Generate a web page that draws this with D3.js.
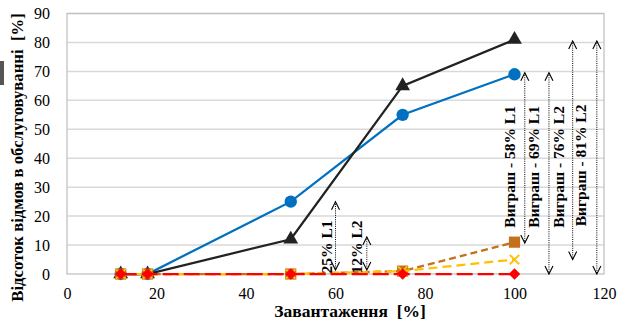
<!DOCTYPE html>
<html>
<head>
<meta charset="utf-8">
<script src="https://cdn.jsdelivr.net/npm/d3@7"></script>
<style>
	body { margin: 0; background: #fff; }
	svg { display: block; }
	text { font-family: "Times New Roman", "Liberation Serif", serif; white-space: pre; }
</style>
</head>
<body>
<div id="chart"></div>
<script>
// load levels, %
const loads = [12, 18, 50, 75, 100];

// refusal rate per series, %
const blueSeries = [0, 0, 25, 55, 69];
const blackSeries = [0, 0, 12, 65, 81];
const orangeSeries = [0, 0, 0, 1, 11];
const yellowSeries = [0, 0, 0, 1, 5];
const redSeries = [0, 0, 0, 0, 0];

const xTicks = [0, 20, 40, 60, 80, 100, 120];
const yTicks = [0, 10, 20, 30, 40, 50, 60, 70, 80, 90];

// annotation arrows: x position, from, to (data units) and text
const noteX = [60, 67, 102.3, 107.7, 113, 118.4];
const noteFrom = [1.4, 1.4, 10.7, 0, 5, 0];
const noteTo = [25, 12.8, 69.5, 69.5, 80.5, 80.5];
const noteText = ["25% L1", "12% L2", "Виграш - 58% L1", "Виграш - 69% L1", "Виграш - 76% L2", "Виграш - 81% L2"];
const noteTextX = [59.2, 65.9, 100.1, 105.5, 111.1, 116];
const noteTextBase = [0.2, 0.2, 16, 16, 16, 16.5];

const width = 617, height = 323;
const margin = {top: 13.5, right: 13, bottom: 49, left: 67};

let scale = {
	x: d3.scaleLinear().domain([0, 120]).range([margin.left, width - margin.right]),
	y: d3.scaleLinear().domain([0, 90]).range([height - margin.bottom, margin.top])
};

let svg = d3.select("#chart").append("svg")
	.attr("width", width)
	.attr("height", height);

// stray dark mark at the left edge of the original
svg.append("rect")
	.attr("x", 0).attr("y", 61).attr("width", 4).attr("height", 24)
	.attr("fill", "#555");

// gridlines
svg.append("g")
	.selectAll("line")
	.data(yTicks.filter(d => d > 0))
	.enter()
	.append("line")
		.attr("x1", scale.x(0))
		.attr("x2", scale.x(120))
		.attr("y1", d => scale.y(d))
		.attr("y2", d => scale.y(d))
		.style("stroke", "#d9d9d9")
		.style("stroke-width", 1.5);

// plot border
svg.append("rect")
	.attr("x", scale.x(0))
	.attr("y", scale.y(90))
	.attr("width", scale.x(120) - scale.x(0))
	.attr("height", scale.y(0) - scale.y(90))
	.attr("fill", "none")
	.style("stroke", "#bfbfbf")
	.style("stroke-width", 1.25);

// axes
let xAxis = svg.append("g")
	.attr("transform", `translate(0, ${scale.y(0)})`)
	.call(d3.axisBottom(scale.x).tickValues(xTicks).tickSize(0).tickPadding(14));
let yAxis = svg.append("g")
	.attr("transform", `translate(${scale.x(0)}, 0)`)
	.call(d3.axisLeft(scale.y).tickValues(yTicks).tickSize(0).tickPadding(17));

[xAxis, yAxis].forEach(ax => {
	ax.attr("font-family", null);
	ax.select(".domain").remove();
	ax.selectAll("text")
		.style("font-size", "16px")
		.attr("fill", "#000");
});

svg.append("text")
	.attr("x", 350)
	.attr("y", 317)
	.attr("text-anchor", "middle")
	.style("font-size", "17.5px")
	.style("font-weight", "bold")
	.text("Завантаження  [%]");

svg.append("text")
	.attr("transform", `translate(23, 157.5) rotate(-90)`)
	.attr("text-anchor", "middle")
	.style("font-size", "16.7px")
	.style("font-weight", "bold")
	.text("Відсоток відмов в обслуговуванні  [%]");

// series
const series = [
	{values: blueSeries, color: "#0070c0", dash: null, marker: "circle"},
	{values: blackSeries, color: "#222222", dash: null, marker: "triangle"},
	{values: orangeSeries, color: "#c5701a", dash: "7 4", marker: "square"},
	{values: yellowSeries, color: "#ffc000", dash: "9 5", marker: "cross"},
	{values: redSeries, color: "#ff0000", dash: "16 5", marker: "diamond"}
];

let line = d3.line()
	.x(d => scale.x(d.load))
	.y(d => scale.y(d.value));

// wide diamond (rotated square), like the spreadsheet marker
const wideDiamond = {
	draw(ctx, size) {
		let r = Math.sqrt(size / 2);
		ctx.moveTo(0, -r);
		ctx.lineTo(r, 0);
		ctx.lineTo(0, r);
		ctx.lineTo(-r, 0);
		ctx.closePath();
	}
};

const symbolType = {
	circle: d3.symbolCircle,
	triangle: d3.symbolTriangle,
	square: d3.symbolSquare,
	diamond: wideDiamond,
	cross: d3.symbolX
};
const symbolSize = {circle: 120, triangle: 95, square: 125, diamond: 66, cross: 60};

series.forEach(s => {
	let pts = loads.map((load, i) => ({load, value: s.values[i]}));
	let g = svg.append("g");
	g.append("path")
		.attr("d", line(pts))
		.attr("fill", "none")
		.style("stroke", s.color)
		.style("stroke-width", 2.25)
		.style("stroke-dasharray", s.dash);
	g.selectAll("path.m")
		.data(pts)
		.enter()
		.append("path")
			.attr("class", "m")
			.attr("transform", d => `translate(${scale.x(d.load)}, ${scale.y(d.value)})`)
			.attr("d", d3.symbol(symbolType[s.marker], symbolSize[s.marker])())
			.attr("fill", s.marker === "cross" ? "none" : s.color)
			.style("stroke", s.color)
			.style("stroke-width", s.marker === "cross" ? 1.8 : 0);
});

// annotations
let notes = svg.append("g");
noteX.forEach((x, i) => {
	let px = scale.x(x);
	let y1 = scale.y(noteTo[i]), y2 = scale.y(noteFrom[i]);
	notes.append("line")
		.attr("x1", px).attr("x2", px)
		.attr("y1", y1).attr("y2", y2)
		.style("stroke", "#000")
		.style("stroke-width", 1)
		.style("stroke-dasharray", "1 1.2");
	notes.append("path")
		.attr("d", `M${px - 4},${y1 + 8}L${px},${y1}L${px + 4},${y1 + 8}M${px - 4},${y2 - 8}L${px},${y2}L${px + 4},${y2 - 8}`)
		.attr("fill", "none")
		.style("stroke", "#000")
		.style("stroke-width", 1.1);
	notes.append("text")
		.attr("transform", `translate(${scale.x(noteTextX[i])}, ${scale.y(noteTextBase[i])}) rotate(-90)`)
		.style("font-size", "15.5px")
		.style("font-weight", "bold")
		.text(noteText[i]);
});
</script>
</body>
</html>
